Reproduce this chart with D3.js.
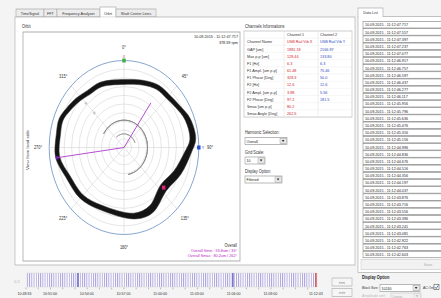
<!DOCTYPE html>
<html><head><meta charset="utf-8">
<script src="https://cdn.jsdelivr.net/npm/d3@7"></script>
<style>
body{margin:0;background:#f4f4f4;}
svg{display:block;font-family:"Liberation Sans",Arial,sans-serif;}
</style>
</head><body>
<svg id="c" width="441" height="298"></svg>
<script>
// ---------------- DATA ----------------
const tabs = ["TimeSignal","FFT","Frequency Analyzer","Orbit","Shaft Center Lines"];
const activeTab = "Orbit";
const angleLabels = [0,45,90,135,180,225,270,315];
const gridMax = 89;          // um at outer ring
const gridRings = 10;
const orbitAngles = [0,20,33,45,57,69,84,94,112,131,153,170,204,225,246,263,280,291,300,312,323,337];
const orbitInner  = [64.5,67.8,70.9,71.4,74.0,78.0,78.8,72.1,64.0,58.0,67.0,68.2,64.7,68.7,70.5,77.0,76.7,77.6,74.5,70.9,67.8,67.5];
const orbitOuter  = [69.5,72.8,75.9,76.4,79.0,84.0,85.8,80.1,73.0,67.0,75.0,74.2,69.7,73.7,75.5,82.0,81.7,82.6,79.5,75.9,72.8,72.5];
const keyphasor = {angle:131, value:62.5};
const smin = {value:55.8, angle:35};
const smax = {value:80.2, angle:262.5};
const timestampText = "10.09.2015 - 11:12:47.717";
const rpmText = "378.59 rpm";
const overallTexts = ["Overall","Overall Smin : 55.8um / 35°","Overall Smax : 80.2um / 262°"];
const rowLabels = ["Channel Name","GAP [um]","Max p-p [um]","F1 [Hz]","F1 Ampl. [um p-p]","F1 Phase [Deg]","F2 [Hz]","F2 Ampl. [um p-p]","F2 Phase [Deg]","Smax [um p-p]","Smax Angle [Deg]"];
const ch1Values = ["USB Rail Vib X","1981.18","128.44","6.3","61.48","328.3","12.6","3.88","97.2","80.2","262.5"];
const ch2Values = ["USB Rail Vib Y","2166.97","133.80","6.3","75.46","50.0","12.6","5.56","181.5","",""];
const dataListTimes = ["47.717","47.557","47.397","47.237","47.077","46.917","46.757","46.597","46.437","46.277","46.117","45.956","45.796","45.636","45.476","45.316","45.156","44.996","44.836","44.676","44.516","44.356","44.197","44.037","43.876","43.716","43.556","43.396","43.241","43.081","42.922","42.763","42.603"];
const timelineStart = "10:48:55", timelineEnd = "11:12:43";
const timelineLabels = ["10:48:55","10:51:00","10:54:00","10:57:00","11:00:00","11:03:00","11:06:00","11:09:00","11:12:43"];
const highlightTimes = ["10:53:17","11:05:56"];
const currentTime = "11:12:43";

// ---------------- HELPERS ----------------
const svg = d3.select("#c");
const K = 0.86, X = v => v / K;
const g = svg.append("g").attr("transform", `scale(${K},1)`);
function txt(p, x, y, s, o = {}) {
  return p.append("text").attr("x", X(x)).attr("y", y).text(s)
    .attr("font-size", o.size || 4.8).attr("fill", o.fill || "#333")
    .attr("text-anchor", o.anchor || "start").attr("font-weight", o.weight || "normal");
}
function box(p, x, y, w, h, fill, stroke, sw) {
  return p.append("rect").attr("x", X(x)).attr("y", y).attr("width", X(w)).attr("height", h)
    .attr("fill", fill || "#fff").attr("stroke", stroke || "#a8a8a8").attr("stroke-width", sw || 0.7);
}
function dropdown(p, x, y, w, h, label, dis) {
  box(p, x, y, w, h, dis ? "#f2f2f2" : "#fff", dis ? "#ccc" : "#9a9a9a");
  txt(p, x + 1.5, y + h - 1.6, label, {size: 4.2, fill: dis ? "#aaa" : "#222"});
  box(p, x + w - 7, y + 0.8, 6.2, h - 1.6, dis ? "#eee" : "#e8e8e8", dis ? "#ccc" : "#999", 0.5);
  p.append("path").attr("d", `M${X(x+w-5.3)},${y+h/2-1} L${X(x+w-2.5)},${y+h/2-1} L${X(x+w-3.9)},${y+h/2+1}Z`)
    .attr("fill", dis ? "#bbb" : "#333");
}

// ---------------- TABS / PANELS ----------------
const tabEdges = [16,44,57,100,116,156];
tabs.forEach((t, i) => {
  const act = t === activeTab;
  const x0 = tabEdges[i], x1 = tabEdges[i+1];
  box(g, x0, act ? 7 : 9, x1 - x0, act ? 10 : 8, act ? "#fff" : "#ececec", "#a8a8a8");
  txt(g, (x0 + x1) / 2, 15, t, {size: 4.3, anchor: "middle", fill: "#333"});
});
box(g, 15, 17, 340, 248, "#fff");
g.append("line").attr("x1", X(100.4)).attr("x2", X(115.6)).attr("y1", 17).attr("y2", 17).attr("stroke", "#fff").attr("stroke-width", 1.2);

// Data List panel
box(g, 358, 8, 25, 9, "#fff");
txt(g, 370.5, 14.5, "Data List", {size: 4.3, anchor: "middle"});
box(g, 358, 16.5, 90, 256, "#fff");
g.append("line").attr("x1", X(358.4)).attr("x2", X(382.6)).attr("y1", 16.5).attr("y2", 16.5).attr("stroke", "#fff").attr("stroke-width", 1.2);

// ---------------- ORBIT PLOT ----------------
txt(g, 22, 28, "Orbit", {size: 4.6});
box(g, 23, 32, 217, 229, "#fff", "#9a9a9a", 0.8);
txt(g, 238, 38.5, timestampText, {size: 4.4, anchor: "end", fill: "#222"});
txt(g, 238, 44.5, rpmText, {size: 4.4, anchor: "end", fill: "#222"});
txt(g, 237, 247.5, overallTexts[0], {size: 4.6, anchor: "end", fill: "#333"});
txt(g, 237, 252.5, overallTexts[1], {size: 4.4, anchor: "end", fill: "#c020c8"});
txt(g, 237, 257.5, overallTexts[2], {size: 4.4, anchor: "end", fill: "#c020c8"});
g.append("text").attr("transform", `translate(${X(28.5)},150) rotate(-90)`)
  .attr("text-anchor", "middle").attr("font-size", 4.6).attr("fill", "#333").text("View from load side");

const R = 87;
const r = d3.scaleLinear().domain([0, gridMax]).range([0, R]);
const rad = d => d * Math.PI / 180;
const P = g.append("g").attr("transform", `translate(${X(124)},147.5)`);
// rings
const ringVals = d3.range(1, gridRings + 1).map(i => gridMax * i / gridRings);
P.selectAll("circle.ring").data(ringVals).join("circle")
  .attr("r", d => r(d)).attr("fill", "none")
  .attr("stroke", (d, i) => i === gridRings - 1 ? "#6f93c4" : "#d2d2d2")
  .attr("stroke-width", (d, i) => i === gridRings - 1 ? 0.9 : 0.6);
// spokes
P.selectAll("line.spoke").data(angleLabels).join("line")
  .attr("x1", 0).attr("y1", 0)
  .attr("x2", d => r(gridMax) * Math.sin(rad(d))).attr("y2", d => -r(gridMax) * Math.cos(rad(d)))
  .attr("stroke", "#d2d2d2").attr("stroke-width", 0.6);
// angle labels
P.selectAll("text.al").data(angleLabels).join("text")
  .attr("x", d => 100 * Math.sin(rad(d))).attr("y", d => -100 * Math.cos(rad(d)) + 1.6)
  .attr("text-anchor", "middle").attr("font-size", 4.6).attr("fill", "#333").text(d => d + "°");
// rotation arcs
const arcG = d3.arc();
P.append("path").attr("d", arcG({innerRadius: r(28), outerRadius: r(28), startAngle: rad(-60), endAngle: rad(170)}))
  .attr("fill", "none").attr("stroke", "#8a8a8a").attr("stroke-width", 1);
P.append("path").attr("d", arcG({innerRadius: r(14), outerRadius: r(14), startAngle: rad(-40), endAngle: rad(70)}))
  .attr("fill", "none").attr("stroke", "#9a9a9a").attr("stroke-width", 0.8);
[[-40, 28], [60, 28], [20, 14]].forEach(([a, v]) => {
  P.append("text").attr("x", r(v) * Math.sin(rad(a))).attr("y", -r(v) * Math.cos(rad(a)) + 1.5)
    .attr("text-anchor", "middle").attr("font-size", 4).attr("fill", "#888").text("›")
    .attr("transform", `rotate(${a} ${r(v) * Math.sin(rad(a))} ${-r(v) * Math.cos(rad(a))})`);
});
// grey markers on 315 line
[64, 50].forEach(v => {
  const a = rad(315);
  P.append("rect").attr("x", r(v) * Math.sin(a) - 1.3).attr("y", -r(v) * Math.cos(a) - 1.3)
    .attr("width", 2.6).attr("height", 2.6).attr("fill", "#c8c8c8")
    .attr("transform", `rotate(45 ${r(v) * Math.sin(a)} ${-r(v) * Math.cos(a)})`);
});
// orbit band (inner and outer edge of the traced band)
const lr = d3.lineRadial().curve(d3.curveCatmullRomClosed.alpha(0.5));
const innerPts = orbitAngles.map((a, i) => [rad(a), r(orbitInner[i])]);
const outerPts = orbitAngles.map((a, i) => [rad(a), r(orbitOuter[i])]);
P.append("path").attr("d", lr(outerPts) + lr(innerPts)).attr("fill", "#141414").attr("fill-rule", "evenodd")
  .attr("stroke", "#333").attr("stroke-width", 0.7).attr("stroke-opacity", 0.8);
// smin / smax lines
[smin, smax].forEach(s => {
  const a = rad(s.angle);
  P.append("line").attr("x1", 0).attr("y1", 0)
    .attr("x2", r(s.value) * Math.sin(a)).attr("y2", -r(s.value) * Math.cos(a))
    .attr("stroke", "#b040d0").attr("stroke-width", 1);
});
{
  const a = rad(smax.angle);
  P.append("rect").attr("x", r(smax.value) * Math.sin(a) - 1.6).attr("y", -r(smax.value) * Math.cos(a) - 1.6)
    .attr("width", 3.2).attr("height", 3.2).attr("fill", "#7020b0");
  const b = rad(keyphasor.angle);
  P.append("rect").attr("x", r(keyphasor.value) * Math.sin(b) - 2).attr("y", -r(keyphasor.value) * Math.cos(b) - 2)
    .attr("width", 4).attr("height", 4).attr("fill", "#e0207a");
}
// sensor markers
P.append("rect").attr("x", -2).attr("y", -R - 2).attr("width", 4).attr("height", 4).attr("fill", "#3cb043");
P.append("text").attr("x", 0).attr("y", -R - 3).attr("text-anchor", "middle").attr("font-size", 4).attr("fill", "#e03030").text("X");
P.append("rect").attr("x", R - 2).attr("y", -2).attr("width", 4).attr("height", 4).attr("fill", "#2050d0");
P.append("text").attr("x", R + 3.5).attr("y", 1.6).attr("font-size", 4.4).attr("fill", "#2050d0").text("Y");

// ---------------- CHANNEL TABLE ----------------
txt(g, 245, 28.5, "Channels Informations", {size: 4.6});
const tY = 31, rh = 7.17;
box(g, 244, tY, 108, rh * (rowLabels.length + 1), "#fff", "#b8b8b8");
[284, 318].forEach(x => g.append("line").attr("x1", X(x)).attr("x2", X(x)).attr("y1", tY).attr("y2", tY + rh * (rowLabels.length + 1)).attr("stroke", "#e0e0e0").attr("stroke-width", 0.6));
txt(g, 287, tY + 5.2, "Channel 1", {size: 4.4, fill: "#333"});
txt(g, 320, tY + 5.2, "Channel 2", {size: 4.4, fill: "#333"});
rowLabels.forEach((l, i) => {
  const y = tY + rh * (i + 1);
  g.append("line").attr("x1", X(244)).attr("x2", X(352)).attr("y1", y).attr("y2", y).attr("stroke", "#ececec").attr("stroke-width", 0.5);
  txt(g, 247, y + 5.2, l, {size: 4.4, fill: "#333"});
  txt(g, 287, y + 5.2, ch1Values[i], {size: 4.4, fill: "#d02028"});
  txt(g, 320, y + 5.2, ch2Values[i], {size: 4.4, fill: "#2a48c0"});
});

// selectors
txt(g, 245, 134.5, "Harmonic Selection:", {size: 4.5});
dropdown(g, 245, 137.5, 42, 7, "Overall");
txt(g, 245, 154, "Grid Scale:", {size: 4.5});
dropdown(g, 245, 157, 20, 7, "10");
txt(g, 245, 173, "Display Option:", {size: 4.5});
dropdown(g, 245, 176, 37, 7, "Filtered");

// ---------------- DATA LIST ----------------
dataListTimes.forEach((t, i) => {
  const y = 21.5 + i * 7.18;
  box(g, 363, y, 82, 6.5, "#fff", "#7a7a7a", 0.6);
  txt(g, 365, y + 5, "10.09.2015 - 11:12:" + t, {size: 4.3, fill: "#222"});
});
box(g, 361, 259.5, 82, 10, "#f2f2f2", "#cfcfcf");
txt(g, 428, 266.3, "Save", {size: 4.4, anchor: "middle", fill: "#aaa"});

// bottom-right options
txt(g, 362, 279.5, "Display Option", {size: 4.5, weight: "bold", fill: "#222"});
txt(g, 362, 289, "Block Size:", {size: 3.9});
dropdown(g, 380, 284.5, 40, 7, "10240");
txt(g, 423, 289, "AC Only:", {size: 3.9});
box(g, 434, 284.5, 5, 5, "#fff", "#666");
g.append("path").attr("d", `M${X(434.8)},287 L${X(436.2)},288.6 L${X(438.3)},285.3`).attr("fill", "none").attr("stroke", "#2050a0").attr("stroke-width", 0.8);
txt(g, 362, 297.5, "Amplitude unit:", {size: 4.2, fill: "#bbb"});
dropdown(g, 391, 293, 30, 6.5, "Linear", true);

// ---------------- TIMELINE ----------------
const parse = d3.timeParse("%H:%M:%S");
const tx = d3.scaleTime().domain([parse(timelineStart), parse(timelineEnd)]).range([X(24.5), X(316)]);
const defs = svg.append("defs");
const pat = defs.append("pattern").attr("id", "stripes").attr("patternUnits", "userSpaceOnUse")
  .attr("width", X(2.2)).attr("height", 14).attr("x", X(27));
pat.append("rect").attr("width", X(2.2)).attr("height", 14).attr("fill", "#fff");
pat.append("rect").attr("x", 0).attr("width", 1.05).attr("height", 14).attr("fill", "#a79fd9");
g.append("rect").attr("x", X(27)).attr("y", 273).attr("width", X(317) - X(27)).attr("height", 14)
  .attr("fill", "url(#stripes)").attr("stroke", "#d8d8d8").attr("stroke-width", 0.5);
highlightTimes.forEach(t => g.append("line").attr("x1", tx(parse(t))).attr("x2", tx(parse(t)))
  .attr("y1", 273).attr("y2", 287).attr("stroke", "#3a36b8").attr("stroke-width", 1.2));
g.append("line").attr("x1", tx(parse(currentTime))).attr("x2", tx(parse(currentTime)))
  .attr("y1", 273).attr("y2", 287).attr("stroke", "#e02a2a").attr("stroke-width", 1.3);
const axis = d3.axisBottom(tx).ticks(d3.timeMinute.every(1)).tickSize(1.8).tickFormat("");
const ag = g.append("g").attr("transform", "translate(0,287.5)").call(axis);
ag.select(".domain").remove();
ag.selectAll(".tick line").attr("stroke", "#999").attr("stroke-width", 0.7);
timelineLabels.forEach(t => txt(g, tx(parse(t)) * K, 295, t, {size: 4.2, anchor: "middle", fill: "#333"}));
txt(g, 17, 283, "0.2", {size: 4.4, anchor: "middle", fill: "#b0b0b0"});
box(g, 332, 278, 20, 8, "#f6f6f6", "#b0b0b0");
txt(g, 342, 283.6, "<<<", {size: 4.2, anchor: "middle", fill: "#444"});
box(g, 332, 288.5, 20, 8, "#f6f6f6", "#b0b0b0");
txt(g, 342, 294.1, ">>>", {size: 4.2, anchor: "middle", fill: "#444"});
</script>
</body></html>
